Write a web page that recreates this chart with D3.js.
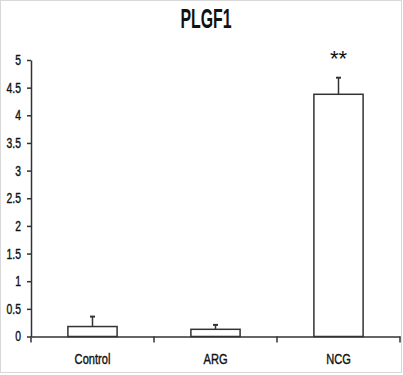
<!DOCTYPE html>
<html>
<head>
<meta charset="utf-8">
<script src="https://cdn.jsdelivr.net/npm/d3@7"></script>
<style>
  body { margin: 0; background: #fff; }
  svg { display: block; font-family: "Liberation Sans", Arial, sans-serif; }
</style>
</head>
<body>
<div id="chart"></div>
<script>
const categories = ['Control', 'ARG', 'NCG'];
const means = [0.18, 0.13, 4.38];
const errors = [0.18, 0.08, 0.30];
const marks = ['', '', '**'];
const yTicks = [0, 0.5, 1, 1.5, 2, 2.5, 3, 3.5, 4, 4.5, 5];

const W = 403, H = 375;
const plotLeft = 31, plotRight = 400, plotTop = 60, plotBottom = 336.5;
const squeeze = 0.74; // labels in the picture are narrow

const svg = d3.select('#chart').append('svg')
  .attr('width', W)
  .attr('height', H);

// light frame round the picture
svg.append('rect')
  .attr('x', 0.5).attr('y', 0.5)
  .attr('width', 401).attr('height', 372)
  .attr('fill', 'none')
  .attr('stroke', '#d8d8d8');

const x = d3.scaleBand()
  .domain(categories)
  .range([plotLeft, plotRight])
  .padding(0);

const y = d3.scaleLinear()
  .domain([0, 5])
  .range([plotBottom, plotTop]);

const barW = x.bandwidth() * 0.4;
const ink = '#333';

// title
svg.append('text')
  .attr('x', 206)
  .attr('y', 28)
  .attr('text-anchor', 'middle')
  .attr('textLength', 51)
  .attr('lengthAdjust', 'spacingAndGlyphs')
  .style('font-size', '28px')
  .style('font-weight', 'bold')
  .attr('fill', '#111')
  .text('PLGF1');

// y axis
const yAxis = svg.append('g')
  .attr('transform', `translate(${plotLeft},0)`)
  .call(d3.axisLeft(y).tickValues(yTicks).tickSize(4).tickSizeOuter(0).tickFormat(d3.format('')));
yAxis.select('.domain').attr('stroke', ink).attr('stroke-width', 1.5);
yAxis.selectAll('.tick line').attr('stroke', ink).attr('stroke-width', 1.5);
yAxis.selectAll('.tick text')
  .attr('x', -10 / squeeze)
  .attr('transform', `scale(${squeeze},1)`)
  .attr('fill', '#111')
  .attr('stroke', '#111')
  .attr('stroke-width', 0.4)
  .style('font-size', '14px');

// bars
const g = svg.append('g');
categories.forEach((c, i) => {
  const cx = x(c) + x.bandwidth() / 2;
  g.append('rect')
    .attr('x', cx - barW / 2)
    .attr('y', y(means[i]))
    .attr('width', barW)
    .attr('height', y(0) - y(means[i]))
    .attr('fill', '#fff')
    .attr('stroke', ink)
    .attr('stroke-width', 1.5);
  // error bar (upper only)
  g.append('line')
    .attr('x1', cx).attr('x2', cx)
    .attr('y1', y(means[i])).attr('y2', y(means[i] + errors[i]))
    .attr('stroke', ink).attr('stroke-width', 1.5);
  g.append('line')
    .attr('x1', cx - 2.5).attr('x2', cx + 2.5)
    .attr('y1', y(means[i] + errors[i])).attr('y2', y(means[i] + errors[i]))
    .attr('stroke', ink).attr('stroke-width', 2);
  if (marks[i]) {
    g.append('text')
      .attr('x', cx)
      .attr('y', y(means[i] + errors[i]) - 12)
      .attr('text-anchor', 'middle')
      .attr('fill', '#111')
      .style('font-size', '22px')
      .text(marks[i]);
  }
});

// x axis
const xAxis = svg.append('g')
  .attr('transform', `translate(0,${plotBottom})`)
  .call(d3.axisBottom(x).tickSize(0).tickPadding(17));
xAxis.select('.domain').attr('stroke', ink).attr('stroke-width', 1.5);
xAxis.selectAll('.tick text')
  .attr('transform', `scale(${squeeze},1)`)
  .attr('fill', '#111')
  .attr('stroke', '#111')
  .attr('stroke-width', 0.4)
  .style('font-size', '15px');

// category boundary ticks
const edges = categories.map(c => x(c)).concat([x.range()[1]]);
xAxis.selectAll('.edge')
  .data(edges)
  .enter()
  .append('line')
  .attr('class', 'edge')
  .attr('x1', d => d).attr('x2', d => d)
  .attr('y1', 0).attr('y2', 6)
  .attr('stroke', ink)
  .attr('stroke-width', 1.5);
</script>
</body>
</html>
